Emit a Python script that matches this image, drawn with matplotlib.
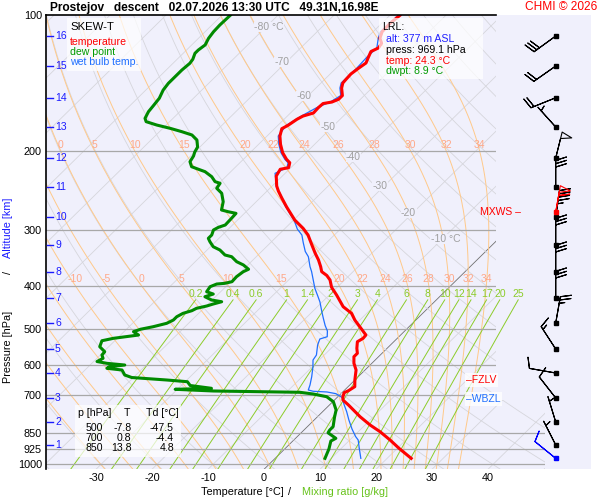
import numpy as np
import matplotlib
matplotlib.use('Agg')
import matplotlib.pyplot as plt
from matplotlib.patches import Polygon, Rectangle

plt.rcParams['font.family'] = ['Liberation Sans', 'DejaVu Sans']

# temperature profile (hPa, degC)
temp_p = [100, 104.2, 108.8, 112.5, 115.4, 118.2, 120.4, 124.1, 127.7, 131.4, 135.1, 138.8, 141.5, 145.2,
          150.9, 153.8, 156.0, 157.2, 160.6, 165.0, 167.6, 170.4, 175.8, 178.8, 185.7, 193.7, 202.2, 209.2,
          212.9, 218.4, 220.2, 227.9, 239.9, 246.1, 254.7, 267.2, 285.6, 298.0, 308.4, 324.6, 338.7, 350.5,
          362.7, 372.2, 379.5, 388.4, 403.2, 419.5, 445.4, 460.8, 476.9, 493.5, 515.0, 523.8, 533.0, 551.3,
          565.6, 575.5, 595.3, 616.1, 648.5, 671.1, 685.0, 692.1, 706.5, 718.5, 737.2, 782.8, 816.8, 845.4,
          882.2, 920.5, 969.1]
temp_t = [-58.2, -58.5, -58.4, -57.6, -56.4, -56.1, -56.8, -56.2, -55.6, -56.0, -56.3, -56.2, -56.1, -55.4,
          -53.9, -53.9, -54.6, -55.9, -56.0, -55.9, -57.2, -57.7, -58.2, -58.7, -57.7, -56.1, -54.2, -52.3,
          -51.1, -50.4, -51.6, -51.1, -49.2, -48.0, -46.2, -43.6, -39.8, -36.8, -34.7, -32.2, -30.1, -28.3,
          -26.7, -25.6, -24.0, -22.6, -21.0, -18.7, -15.4, -12.7, -10.9, -8.8, -6.2, -6.1, -6.5, -5.4,
          -4.4, -4.4, -3.2, -1.6, 0.0, 1.2, 0.8, 0.4, 0.9, 1.5, 3.4, 7.6, 10.9, 13.9,
          17.2, 20.3, 24.3]

# dew point profile
dew_p = [100, 105.1, 108.8, 112.5, 116.4, 119.5, 121.5, 125.3, 127.9, 132.4,
         138.1, 141.7, 146.7, 153.0, 159.2, 163.9, 169.6, 172.5, 175.5, 178.5,
         181.6, 184.7, 189.5, 196.5, 201.6, 205.7, 211.8, 217.3, 220.2, 222.9,
         228.7, 234.6, 236.6, 242.7, 249.0, 260.0, 271.3, 273.7, 276.0, 283.1,
         293.0, 296.5, 300.6, 308.4, 313.7, 319.2, 327.5, 333.1, 341.7, 344.7,
         353.6, 359.6, 367.6, 372.2, 381.9, 391.8, 395.1, 396.5, 402.0, 412.5,
         417.4, 423.2, 430.4, 434.2, 439.3, 443.8, 449.1, 454.6, 460.8, 468.9,
         476.9, 485.0, 493.5, 500.0, 506.3, 515.0, 523.8, 530.3, 546.8, 561.0,
         570.6, 580.3, 589.9, 595.4, 600.6, 605.8, 610.8, 616.1, 632.1, 640.3,
         648.5, 654.2, 667.1, 676.7, 680.2, 686.1, 690.7, 696.8, 706.5, 724.8,
         756.3, 784.1, 824.0, 838.1, 850.0, 874.5, 886.7, 923.6, 969.1]
dew_t = [-88.5, -88.6, -88.5, -88.2, -87.6, -87.9, -87.9, -87.2, -87.0, -87.2,
         -87.2, -87.2, -86.9, -86.1, -85.8, -85.6, -85.0, -84.2, -81.7, -78.7,
         -76.0, -73.6, -71.8, -70.4, -70.0, -69.5, -69.1, -67.9, -66.2, -64.6,
         -62.5, -61.0, -59.8, -59.5, -57.7, -55.9, -54.7, -53.2, -51.5, -51.4,
         -51.3, -52.1, -52.5, -51.9, -51.9, -51.0, -49.5, -47.7, -45.9, -44.4,
         -42.6, -40.8, -39.1, -39.6, -39.9, -39.8, -40.8, -42.1, -42.8, -42.5,
         -40.9, -41.9, -40.1, -38.0, -39.1, -39.9, -41.3, -41.7, -42.8, -43.3,
         -43.3, -43.9, -45.7, -47.5, -48.3, -46.8, -50.7, -52.3, -51.6, -49.8,
         -49.7, -48.9, -49.4, -47.3, -43.8, -46.3, -46.4, -43.4, -42.0, -40.3,
         -33.6, -29.6, -28.4, -24.1, -30.4, -23.3, -7.6, -4.9, -2.0, 0.1,
         2.1, 3.1, 4.6, 4.6, 4.8, 7.2, 6.8, 7.9, 8.9]

# wet bulb profile
wb_p = [100, 108.8, 112.5, 118.2, 124.1, 131.4, 141.5, 145.2, 150.9, 156.0,
        160.6, 167.6, 175.8, 185.7, 193.7, 202.2, 209.2, 212.9, 218.4, 224.8,
        240.8, 253.4, 264.5, 276.0, 286.3, 299.1, 308.4, 320.5, 335.6, 344.7,
        362.7, 372.2, 388.4, 405.3, 423.2, 434.8, 457.0, 472.0, 490.5, 504.5,
        519.5, 525.6, 542.1, 570.6, 585.4, 605.8, 637.7, 665.4, 682.6, 687.1,
        689.6, 695.6, 709.4, 733.4, 763.0, 796.1, 833.8, 866.5, 882.2, 920.5, 969.1]
wb_t = [-58.5, -58.7, -57.9, -56.4, -56.5, -56.3, -56.4, -55.7, -54.2, -54.9,
        -56.3, -57.5, -58.5, -58.0, -56.4, -54.5, -52.6, -51.4, -50.7, -51.8,
        -49.1, -46.4, -44.3, -41.9, -39.8, -37.7, -35.8, -34.2, -32.2, -30.7,
        -28.6, -27.4, -25.6, -23.8, -21.7, -20.4, -18.3, -16.9, -15.2, -13.8,
        -12.8, -13.7, -13.0, -11.4, -11.1, -9.9, -8.3, -7.1, -6.5, -5.4,
        -2.8, -0.9, 0.9, 2.4, 4.3, 6.2, 8.4, 10.4, 11.5, 13.2, 15.3]

# altitude marks (km) and their pressure
alt_km = list(range(1, 17))
alt_p = [904.6, 804.4, 711.2, 625.7, 553.3, 484.2, 426.0, 372.8, 324.6, 281.2,
         241.2, 207.8, 177.3, 152.6, 129.7, 111.2]

# wind at km levels (direction deg, speed kt), same order as alt_p
wind_dir = [333, 343, 322, 280, 327, 10, 360, 360, 360, 8, 360, 14, 318, 248, 235, 234]
wind_spd = [5, 5, 10, 10, 15, 25, 30, 30, 30, 45, 30, 50, 5, 20, 20, 30]
mxws_p, mxws_dir, mxws_spd = 274.1, 10, 60
sfc_p, sfc_dir, sfc_spd = 969.1, 309, 10

fzlv_p = 648.5
wbzl_p = 714.8

# table values
tab_p = ['500', '700', '850']
tab_t = ['-7.8', '0.8', '13.8']
tab_td = ['-47.5', '-4.4', '4.8']

p_ticks = [100, 200, 300, 400, 500, 600, 700, 850, 925, 1000]
t_ticks = [-30, -20, -10, 0, 10, 20, 30, 40]
iso_lab_t = [-80, -70, -60, -50, -40, -30, -20, -10]
iso_lab_p = [106.2, 127.0, 151.2, 177.3, 206.8, 239.9, 275.5, 314.8]
thw_lines = [-30, -25, -20, -15, -10, -5, 0, 5, 10, 15, 20, 22, 24, 26, 28, 30, 32, 34]
thw_lab_200 = [0, 5, 10, 15, 20, 22, 24, 26, 28, 30, 32, 34]
thw_lab_400 = [-10, -5, 0, 5, 10, 15, 20, 22, 24, 26, 28, 30, 32, 34]
mix_w = [0.2, 0.4, 0.6, 1, 1.4, 2, 3, 4, 6, 8, 10, 12, 14, 17, 20, 25]

SKEW = 81.6
P_BOT = 1025.0
X_LEFT, X_RIGHT = -38.93, 58.39
X_CLIP, X_CLIP_LOW = 41.43, 50.2

BG = '#f0f0fc'
RED = '#ff0000'
GREEN = '#008a00'
WBLUE = '#1e6eff'
KBLUE = '#1a1aff'
MIXG = '#8ccc2a'
MOIST = '#ffc98a'
MOISTLAB = '#ffa888'
GRID = '#d6d6dc'


def skx(t, p):
    return np.asarray(t, float) + SKEW * np.log10(P_BOT / np.asarray(p, float))


def fx(x):
    return x / 600.0


def fy(y):
    return 1 - y / 500.0


def dtdp(p, t):
    es = 6.112 * np.exp(17.67 * (t - 273.15) / (t - 29.65))
    rs = 0.622 * es / (p - es)
    return (287.04 * t + 2.501e6 * rs) / (1005.7 + 2.501e6 ** 2 * rs * 0.622 / (287.04 * t * t)) / p


def integrate(pp, t0):
    t = t0.copy()
    out = [t.copy()]
    for i in range(len(pp) - 1):
        h = pp[i + 1] - pp[i]
        k1 = dtdp(pp[i], t)
        k2 = dtdp(pp[i] + h / 2, t + h / 2 * k1)
        k3 = dtdp(pp[i] + h / 2, t + h / 2 * k2)
        k4 = dtdp(pp[i + 1], t + h * k3)
        t = t + h / 6 * (k1 + 2 * k2 + 2 * k3 + k4)
        out.append(t.copy())
    return np.array(out)


fig = plt.figure(figsize=(6, 5), dpi=100)
ax = fig.add_axes([46 / 600, 1 - 469.3 / 500, 545 / 600, 454 / 500])
ax.set_facecolor(BG)
ax.set_yscale('log')
ax.set_ylim(P_BOT, 100)
ax.set_xlim(X_LEFT, X_RIGHT)

clip = Polygon([(X_LEFT, P_BOT), (X_LEFT, 100), (X_CLIP, 100), (X_CLIP, 720),
                (X_CLIP_LOW, 720), (X_CLIP_LOW, P_BOT)], closed=True, transform=ax.transData)

pp = np.linspace(P_BOT, 100, 200)

# isotherms
for t in range(-160, 60, 10):
    col = '#707070' if t == 0 else GRID
    ln, = ax.plot(skx([t, t], [P_BOT, 100]), [P_BOT, 100], color=col, lw=0.6, zorder=1)
    ln.set_clip_path(clip)

# dry adiabats
for th in range(-40, 210, 10):
    tt = (th + 273.15) * (pp / 1000.0) ** 0.2857 - 273.15
    ln, = ax.plot(skx(tt, pp), pp, color=GRID, lw=0.6, zorder=1)
    ln.set_clip_path(clip)

# moist adiabats
t0 = np.array(thw_lines, float) + 273.15
p_up = np.linspace(1000, 100, 901)
p_dn = np.linspace(1000, P_BOT, 26)
t_up = integrate(p_up, t0) - 273.15
t_dn = integrate(p_dn, t0) - 273.15
p_all = np.concatenate([p_dn[::-1], p_up[1:]])
t_all = np.vstack([t_dn[::-1], t_up[1:]])
for j, thw in enumerate(thw_lines):
    ln, = ax.plot(skx(t_all[:, j], p_all), p_all, color=MOIST, lw=0.7, zorder=1.2)
    ln.set_clip_path(clip)
for lvl, labs, lp in [(200, thw_lab_200, 194.5), (400, thw_lab_400, 386.5)]:
    k = np.argmin(np.abs(p_all - lvl))
    for thw in labs:
        j = thw_lines.index(thw)
        ax.text(skx(t_all[k, j], lvl), lp, str(thw), color=MOISTLAB, fontsize=7.5,
                ha='center', va='center', zorder=2)

# mixing ratio lines
pm = np.linspace(P_BOT, 430, 60)
for w in mix_w:
    e = w * pm / (622.0 + w)
    le = np.log(e / 6.112)
    td = 243.5 * le / (17.67 - le)
    ax.plot(skx(td, pm), pm, color=MIXG, lw=0.7, zorder=1.3)
    lab = ('%g' % w)
    ax.text(skx(td[-1], 430), 417, lab, color=MIXG, fontsize=7.5, ha='center', va='center', zorder=2)

# isotherm labels
for t, p in zip(iso_lab_t, iso_lab_p):
    s = '%d °C' % t if t in (-80, -10) else '%d' % t
    ax.text(skx(t, p) - 2.1, p, s, color='#a0a0a0', fontsize=7.5, ha='left', va='center', zorder=2,
            bbox=dict(facecolor=BG, edgecolor='none', pad=0.3))

# pressure lines
for p in p_ticks[1:]:
    ln, = ax.plot([X_LEFT, X_RIGHT], [p, p], color='#a8a8a8', lw=0.9, zorder=1.5)
    ln.set_clip_path(clip)
ax.plot([X_LEFT, X_CLIP], [100, 100], color='k', lw=1.2, zorder=6, clip_on=False)

# profiles
ax.plot(skx(wb_t, wb_p), wb_p, color=WBLUE, lw=0.9, zorder=3)
ax.plot(skx(dew_t, dew_p), dew_p, color=GREEN, lw=2.2, zorder=3.2)
ax.plot(skx(temp_t, temp_p), temp_p, color=RED, lw=2.2, zorder=3.4)

# altitude marks
for km, p in zip(alt_km, alt_p):
    ax.plot([-38.75, -37.68], [p, p], color=KBLUE, lw=1.0, zorder=4)
    ax.text(-37.32, p, str(km), color=KBLUE, fontsize=7.5, ha='left', va='center', zorder=4)

# wind barbs
bx = (555.7 - 264) / 5.6
d = np.radians(wind_dir)
u = -np.array(wind_spd) * np.sin(d)
v = -np.array(wind_spd) * np.cos(d)
ax.barbs(np.full(len(alt_p), bx), alt_p, u, v, length=6.2, linewidth=0.8,
         barbcolor='k', flagcolor='none', zorder=4)
ax.plot(np.full(len(alt_p), bx), alt_p, 's', color='k', ms=2.6, zorder=5)
for p, dd, ss, col in [(mxws_p, mxws_dir, mxws_spd, RED), (sfc_p, sfc_dir, sfc_spd, 'blue')]:
    r = np.radians(dd)
    ax.barbs([bx], [p], [-ss * np.sin(r)], [-ss * np.cos(r)], length=6.2, linewidth=0.8,
             barbcolor=col, flagcolor='none', zorder=4.5)
    ax.plot([bx], [p], 's', color=col, ms=2.6, zorder=5)

# level labels
ax.text(36.1, fzlv_p, '–FZLV', color=RED, fontsize=7.5, ha='left', va='center', zorder=7,
        bbox=dict(facecolor='white', alpha=0.8, edgecolor='none', pad=1.2))
ax.text(36.1, wbzl_p, '–WBZL', color=WBLUE, fontsize=7.5, ha='left', va='center', zorder=7,
        bbox=dict(facecolor='white', alpha=0.8, edgecolor='none', pad=1.2))
ax.text(45.9, mxws_p, 'MXWS –', color=RED, fontsize=7.5, ha='right', va='center', zorder=7)

# axes styling
for s in ['top', 'right', 'bottom']:
    ax.spines[s].set_visible(False)
ax.spines['left'].set_linewidth(1.2)
ax.set_yticks(p_ticks)
ax.set_yticklabels([str(p) for p in p_ticks])
ax.yaxis.set_minor_locator(matplotlib.ticker.NullLocator())
ax.set_xticks(t_ticks)
ax.set_xticklabels([str(t) for t in t_ticks])
ax.tick_params(length=0, pad=3, labelsize=7.8)

# boxes
for (x0, y0, x1, y1) in [(67, 18, 141, 71), (379, 18, 483, 79), (75, 405, 181, 457)]:
    fig.add_artist(Rectangle((fx(x0), fy(y1)), (x1 - x0) / 600, (y1 - y0) / 500,
                             transform=fig.transFigure, facecolor='white', alpha=0.72,
                             edgecolor='none', zorder=1))

fs = 7.6
fig.text(fx(70), fy(26.7), 'SKEW-T', fontsize=8.2, va='center')
fig.text(fx(70), fy(42), 'temperature', color=RED, fontsize=fs, va='center')
fig.text(fx(70), fy(51.7), 'dew point', color='#009a00', fontsize=fs, va='center')
fig.text(fx(70), fy(62), 'wet bulb temp.', color=WBLUE, fontsize=fs, va='center')

fig.text(fx(382), fy(26.7), 'LRL:', fontsize=fs, va='center')
fig.text(fx(386), fy(39), 'alt: 377 m ASL', color='#2020ff', fontsize=fs, va='center')
fig.text(fx(386), fy(50), 'press: 969.1 hPa', fontsize=fs, va='center')
fig.text(fx(386), fy(60.5), 'temp: 24.3 °C', color=RED, fontsize=fs, va='center')
fig.text(fx(386), fy(71), 'dwpt: 8.9 °C', color='#009a00', fontsize=fs, va='center')

fig.text(fx(78.3), fy(413.3), 'p [hPa]', fontsize=fs, va='center')
fig.text(fx(127), fy(413.3), 'T', fontsize=fs, va='center', ha='center')
fig.text(fx(146), fy(413.3), 'Td [°C]', fontsize=fs, va='center')
for i in range(3):
    yy = fy(428.3 + 10 * i)
    fig.text(fx(102.7), yy, tab_p[i], fontsize=fs, va='center', ha='right')
    fig.text(fx(131.5), yy, tab_t[i], fontsize=fs, va='center', ha='right')
    fig.text(fx(174), yy, tab_td[i], fontsize=fs, va='center', ha='right')

# titles and axis labels
fig.text(fx(50), fy(7.5), 'Prostejov   descent   02.07.2026 13:30 UTC   49.31N,16.98E',
         fontsize=8.6, weight='bold', va='center')
fig.text(fx(597), fy(7.5), 'CHMI © 2026', color=RED, fontsize=8.6, ha='right', va='center')
fig.text(fx(284), fy(492), 'Temperature [°C]', fontsize=7.8, ha='right', va='center')
fig.text(fx(289.5), fy(492), '/', fontsize=7.8, ha='center', va='center')
fig.text(fx(302), fy(492), 'Mixing ratio [g/kg]', color='#66c21a', fontsize=7.8, ha='left', va='center')
fig.text(fx(8), fy(347), 'Pressure [hPa]', fontsize=7.8, rotation=90, ha='center', va='center')
fig.text(fx(8), fy(273), '/', fontsize=7.8, rotation=90, ha='center', va='center')
fig.text(fx(8), fy(228), 'Altitude [km]', color=KBLUE, fontsize=7.8, rotation=90, ha='center', va='center')

fig.savefig('out.png', dpi=100)
